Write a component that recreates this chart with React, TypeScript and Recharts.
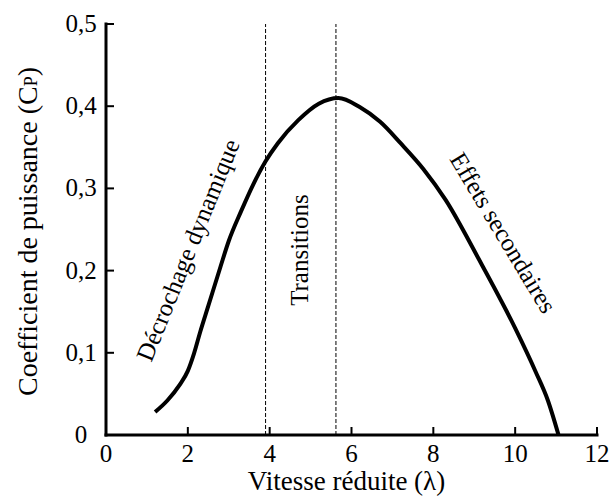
import React from 'react';
import { LineChart, Line, XAxis, YAxis, ReferenceLine, ReferenceDot, Label } from 'recharts';

const lambdaValues = [1.2, 1.5, 1.8, 2.0, 2.15, 2.3, 2.5, 2.8, 3.0, 3.3, 3.6, 3.9, 4.2, 4.7, 5.2, 5.68, 6.2, 6.7, 7.2, 7.75, 8.3, 9.1, 10.0, 10.5, 10.8, 11.06];
const cpValues = [0.028, 0.042, 0.061, 0.078, 0.099, 0.125, 0.157, 0.205, 0.236, 0.272, 0.305, 0.333, 0.355, 0.383, 0.403, 0.41, 0.399, 0.381, 0.355, 0.324, 0.286, 0.215, 0.13, 0.077, 0.042, 0];

const xTicks = [0, 2, 4, 6, 8, 10, 12];
const yTicks = [0, 0.1, 0.2, 0.3, 0.4, 0.5];
const zoneLimits = [3.9, 5.62];

const zoneNames = ['Décrochage dynamique', 'Transitions', 'Effets secondaires'];
const zoneLabelX = [2.0, 4.72, 9.71];
const zoneLabelY = [0.225, 0.225, 0.246];
const zoneLabelAngle = [-68, -90, 59];

const data = lambdaValues.map((l, i) => ({ lambda: l, cp: cpValues[i] }));

const SERIF = 'Liberation Serif';

const fmtY = (v: number) => (v === 0 ? '0' : v.toFixed(1).replace('.', ','));

const YTick = (props: any) => {
    const { x, y, payload } = props;
    return (
        <g>
            <line x1={x} x2={x + 8} y1={y} y2={y} stroke="#000" strokeWidth={2} />
            <text x={x - 25} y={y + 8} textAnchor="middle" fontSize={25} fontFamily={SERIF} fill="#000">
                {fmtY(payload.value)}
            </text>
        </g>
    );
};

const XTick = (props: any) => {
    const { x, y, payload } = props;
    return (
        <g>
            <line x1={x} x2={x} y1={y} y2={y - 8} stroke="#000" strokeWidth={2} />
            <text x={x} y={y + 27} textAnchor="middle" fontSize={25} fontFamily={SERIF} fill="#000">
                {payload.value}
            </text>
        </g>
    );
};

const XTitle = (props: any) => {
    const { x, y, width } = props.viewBox;
    return (
        <text x={x + width / 2 - 5} y={y + 55} textAnchor="middle" fontSize={27} fontFamily={SERIF} fill="#000">
            Vitesse réduite (λ)
        </text>
    );
};

const YTitle = (props: any) => {
    const { y, height } = props.viewBox;
    const cx = 37;
    const cy = y + height / 2 + 2;
    return (
        <text x={cx} y={cy} transform={`rotate(-90, ${cx}, ${cy})`} textAnchor="middle" fontSize={28} fontFamily={SERIF} fill="#000">
            Coefficient de puissance (C<tspan fontSize={18}>P</tspan>)
        </text>
    );
};

const zoneLabel = (i: number) => (props: any) => {
    const { cx, cy } = props;
    return (
        <text
            x={cx}
            y={cy}
            transform={`rotate(${zoneLabelAngle[i]}, ${cx}, ${cy})`}
            textAnchor="middle"
            dominantBaseline="central"
            fontSize={25}
            fontFamily={SERIF}
            fill="#000"
        >
            {zoneNames[i]}
        </text>
    );
};

export default function App() {
    return (
        <div style={{ position: 'absolute', left: 0, top: 0, background: '#fff' }}>
            <LineChart width={609} height={498} data={data} margin={{ top: 24, right: 12, bottom: 33, left: 46 }}>
                <XAxis
                    dataKey="lambda"
                    type="number"
                    domain={[0, 12]}
                    ticks={xTicks}
                    tickSize={0}
                    tickMargin={0}
                    tickLine={false}
                    tick={<XTick />}
                    axisLine={{ stroke: '#000', strokeWidth: 3, strokeLinecap: 'square' }}
                    height={30}
                    label={<Label content={<XTitle />} />}
                />
                <YAxis
                    type="number"
                    domain={[0, 0.5]}
                    ticks={yTicks}
                    tickSize={0}
                    tickMargin={0}
                    tickLine={false}
                    tick={<YTick />}
                    axisLine={{ stroke: '#000', strokeWidth: 3, strokeLinecap: 'square' }}
                    width={60}
                    label={<Label content={<YTitle />} />}
                />
                {zoneLimits.map((v) => (
                    <ReferenceLine key={v} x={v} stroke="#000" strokeWidth={1} strokeDasharray="4 2" />
                ))}
                <Line
                    dataKey="cp"
                    type="monotone"
                    stroke="#000"
                    strokeWidth={4}
                    dot={false}
                    isAnimationActive={false}
                />
                {zoneNames.map((n, i) => (
                    <ReferenceDot key={n} x={zoneLabelX[i]} y={zoneLabelY[i]} r={0} shape={zoneLabel(i)} />
                ))}
            </LineChart>
        </div>
    );
}
